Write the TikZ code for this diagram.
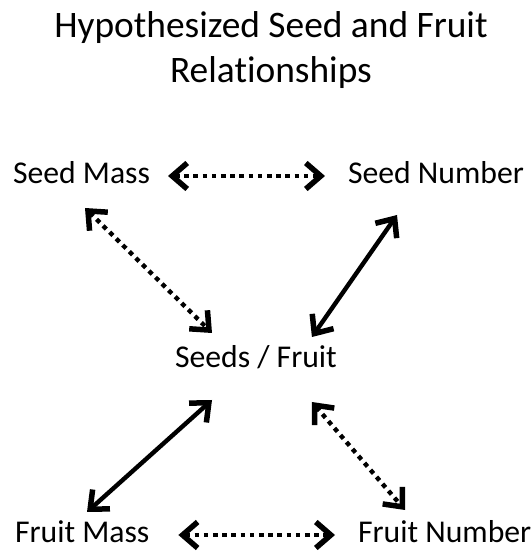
\documentclass[tikz,border=0pt]{standalone}
\usepackage{fontspec}
\setmainfont{Carlito}[Ligatures=NoCommon]
\usepackage{tikz}
\usetikzlibrary{arrows.meta,positioning}

\begin{document}
\begin{tikzpicture}[x=1bp, y=1bp,
    every node/.style={inner sep=0pt, outer sep=0pt, font=\fontsize{31.7bp}{38bp}\selectfont},
    label/.style={anchor=base west},
    link/.style={line width=4.4bp, {Straight Barb[length=15bp,width=26bp,line width=5.5bp]}-{Straight Barb[length=15bp,width=26bp,line width=5.5bp]}},
    dotlink/.style={link, dash pattern=on 4.6bp off 4.6bp}]
  \useasboundingbox (0,0) rectangle (532,553);
  % title
  \node (title) at (271,503) [align=center, font=\fontsize{37.4bp}{45bp}\selectfont]
    {Hypothesized Seed and Fruit\\Relationships};
  % the five traits
  \node[label] (sm) at (13,369) {Seed Mass};
  \node[label] (sn) at (348,369) {Seed Number};
  \node[label] (sf) at (175,185) {Seeds / Fruit};
  \node[label] (fm) at (15,10) {Fruit Mass};
  \node[label] (fn) at (358,10) {Fruit Number};
  % hypothesized links
  \draw[dotlink] ([shift={(18,8)}]sm.base east) -- ([shift={(-23,8)}]sn.base west);
  \draw[dotlink] ([shift={(72,-24)}]sm.base west) -- ([shift={(37,35)}]sf.base west);
  \draw[link] ([shift={(49,-31)}]sn.base west) -- ([shift={(-25,31)}]sf.base east);
  \draw[link] ([shift={(37,-32)}]sf.base west) -- ([shift={(72,31)}]fm.base west);
  \draw[dotlink] ([shift={(-25,-34)}]sf.base east) -- ([shift={(47,33)}]fn.base west);
  \draw[dotlink] ([shift={(29,8)}]fm.base east) -- ([shift={(-23,8)}]fn.base west);
\end{tikzpicture}
\end{document}
